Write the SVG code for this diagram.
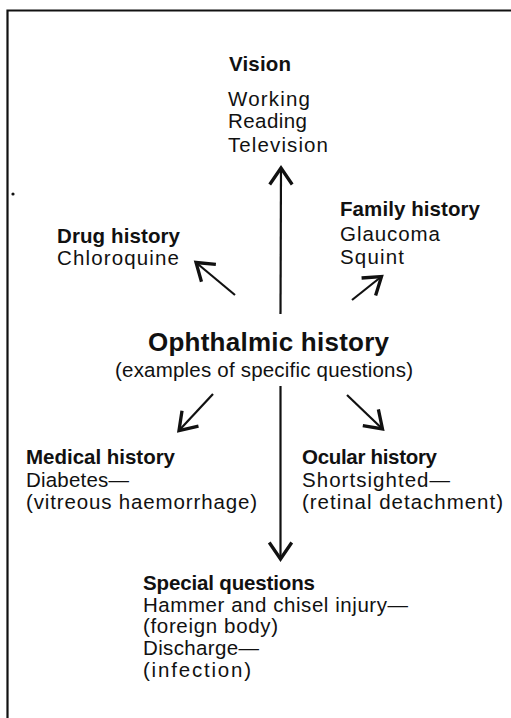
<svg xmlns="http://www.w3.org/2000/svg" width="511" height="718" viewBox="0 0 511 718">
<defs>
<style>
text{font-family:"Liberation Sans",Arial,Helvetica,sans-serif;fill:#111;font-size:20.5px}
.b{font-weight:bold}
.t{font-weight:bold;font-size:26px}
.c{stroke:#111;stroke-width:2.2;fill:none;stroke-linecap:butt}
.f{stroke:#111;stroke-width:2.2;fill:none}
</style>
<marker id="ah" markerUnits="userSpaceOnUse" markerWidth="30" markerHeight="30" viewBox="-14 -10 16 20" refX="0" refY="0" orient="auto">
<path d="M-11,-7.5 L0,0 L-11,7.5" stroke="#111" stroke-width="2.2" fill="none" stroke-linejoin="miter"/>
</marker>
</defs>
<rect x="0" y="0" width="511" height="718" fill="#fff"/>
<g id="frame">
<path class="f" d="M7.5,718 V10.5 H511"/>
<circle cx="13" cy="194" r="1.6" fill="#111"/>
</g>
<g id="connectors">
<line class="c" x1="280.5" y1="314" x2="281" y2="168" marker-end="url(#ah)"/>
<line class="c" x1="280.5" y1="386" x2="280.5" y2="559" marker-end="url(#ah)"/>
<line class="c" x1="235" y1="295" x2="196" y2="262.5" marker-end="url(#ah)"/>
<line class="c" x1="352" y1="300" x2="381.5" y2="276.5" marker-end="url(#ah)"/>
<line class="c" x1="213" y1="394" x2="179" y2="430.5" marker-end="url(#ah)"/>
<line class="c" x1="347" y1="395" x2="382.5" y2="429" marker-end="url(#ah)"/>
</g>
<g id="center">
<text class="t" x="148" y="351" textLength="241" lengthAdjust="spacing">Ophthalmic history</text>
<text x="115" y="377" textLength="298" lengthAdjust="spacing">(examples of specific questions)</text>
</g>
<g id="vision">
<text class="b" x="229" y="71" textLength="62" lengthAdjust="spacing">Vision</text>
<text x="228" y="105.5" textLength="82" lengthAdjust="spacing">Working</text>
<text x="228" y="128" textLength="79" lengthAdjust="spacing">Reading</text>
<text x="228" y="151.5" textLength="100" lengthAdjust="spacing">Television</text>
</g>
<g id="drug-history">
<text class="b" x="57" y="243" textLength="123" lengthAdjust="spacing">Drug history</text>
<text x="57" y="265" textLength="122" lengthAdjust="spacing">Chloroquine</text>
</g>
<g id="family-history">
<text class="b" x="340" y="216" textLength="140" lengthAdjust="spacing">Family history</text>
<text x="340" y="240.5" textLength="100" lengthAdjust="spacing">Glaucoma</text>
<text x="340" y="264" textLength="64" lengthAdjust="spacing">Squint</text>
</g>
<g id="medical-history">
<text class="b" x="26" y="464" textLength="149" lengthAdjust="spacing">Medical history</text>
<text x="26" y="487" textLength="103" lengthAdjust="spacing">Diabetes—</text>
<text x="26" y="509" textLength="231" lengthAdjust="spacing">(vitreous haemorrhage)</text>
</g>
<g id="ocular-history">
<text class="b" x="302" y="464" textLength="135" lengthAdjust="spacing">Ocular history</text>
<text x="302" y="487" textLength="148" lengthAdjust="spacing">Shortsighted—</text>
<text x="302" y="509" textLength="201" lengthAdjust="spacing">(retinal detachment)</text>
</g>
<g id="special-questions">
<text class="b" x="143" y="590" textLength="172" lengthAdjust="spacing">Special questions</text>
<text x="143" y="612" textLength="265" lengthAdjust="spacing">Hammer and chisel injury—</text>
<text x="143" y="633" textLength="135" lengthAdjust="spacing">(foreign body)</text>
<text x="143" y="655" textLength="116" lengthAdjust="spacing">Discharge—</text>
<text x="143" y="677" textLength="108" lengthAdjust="spacing">(infection)</text>
</g>
</svg>
